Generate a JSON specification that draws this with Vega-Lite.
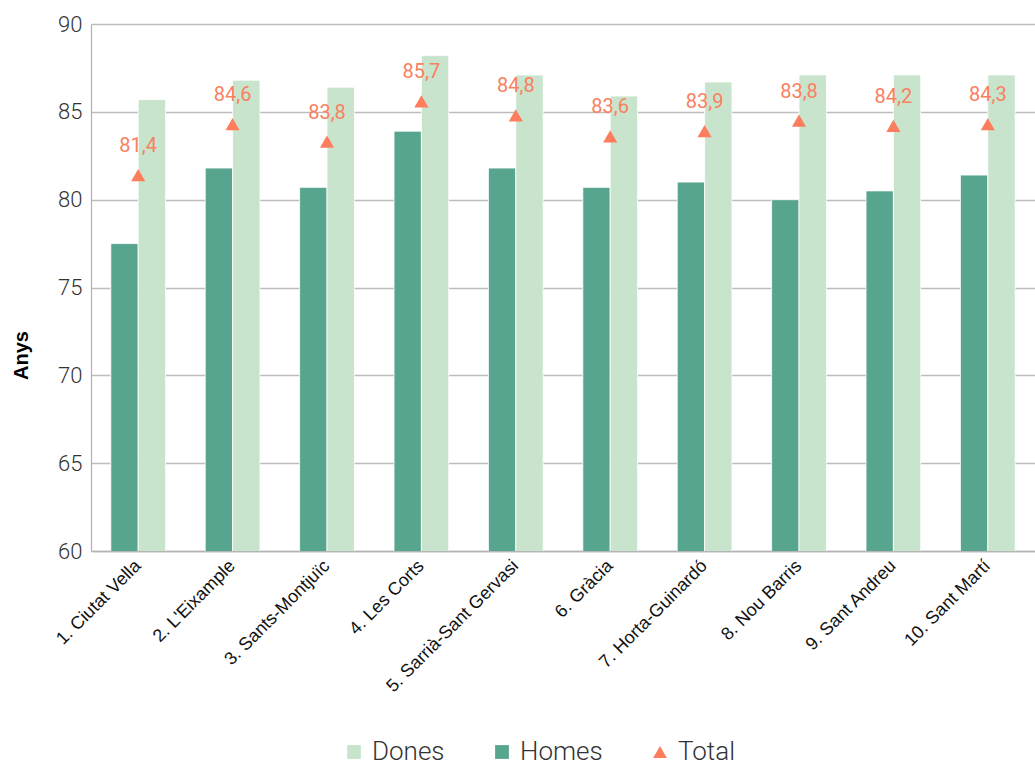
{
  "$schema": "https://vega.github.io/schema/vega-lite/v6.json",
  "autosize": "none",
  "width": 944,
  "height": 527,
  "padding": {"left": 91, "top": 24, "right": 0, "bottom": 216},
  "background": "white",
  "config": {
    "view": {"stroke": null},
    "font": "Roboto",
    "legend": {
      "orient": "none",
      "direction": "horizontal",
      "legendX": 250,
      "legendY": 715,
      "labelFont": "Roboto",
      "labelFontSize": 26,
      "labelFontWeight": 300,
      "labelColor": "#333333",
      "labelOffset": 5,
      "symbolSize": 190,
      "symbolStrokeWidth": 0,
      "columnPadding": 44,
      "title": null
    }
  },
  "data": {
    "values": [
      {"districte": "1. Ciutat Vella", "serie": "Homes", "valor": 77.5, "etiqueta": ""},
      {"districte": "1. Ciutat Vella", "serie": "Dones", "valor": 85.7, "etiqueta": ""},
      {"districte": "1. Ciutat Vella", "serie": "Total", "valor": 81.4, "etiqueta": "81,4"},
      {"districte": "2. L'Eixample", "serie": "Homes", "valor": 81.8, "etiqueta": ""},
      {"districte": "2. L'Eixample", "serie": "Dones", "valor": 86.8, "etiqueta": ""},
      {"districte": "2. L'Eixample", "serie": "Total", "valor": 84.3, "etiqueta": "84,6"},
      {"districte": "3. Sants-Montjuïc", "serie": "Homes", "valor": 80.7, "etiqueta": ""},
      {"districte": "3. Sants-Montjuïc", "serie": "Dones", "valor": 86.4, "etiqueta": ""},
      {"districte": "3. Sants-Montjuïc", "serie": "Total", "valor": 83.3, "etiqueta": "83,8"},
      {"districte": "4. Les Corts", "serie": "Homes", "valor": 83.9, "etiqueta": ""},
      {"districte": "4. Les Corts", "serie": "Dones", "valor": 88.2, "etiqueta": ""},
      {"districte": "4. Les Corts", "serie": "Total", "valor": 85.6, "etiqueta": "85,7"},
      {"districte": "5. Sarrià-Sant Gervasi", "serie": "Homes", "valor": 81.8, "etiqueta": ""},
      {"districte": "5. Sarrià-Sant Gervasi", "serie": "Dones", "valor": 87.1, "etiqueta": ""},
      {"districte": "5. Sarrià-Sant Gervasi", "serie": "Total", "valor": 84.8, "etiqueta": "84,8"},
      {"districte": "6. Gràcia", "serie": "Homes", "valor": 80.7, "etiqueta": ""},
      {"districte": "6. Gràcia", "serie": "Dones", "valor": 85.9, "etiqueta": ""},
      {"districte": "6. Gràcia", "serie": "Total", "valor": 83.6, "etiqueta": "83,6"},
      {"districte": "7. Horta-Guinardó", "serie": "Homes", "valor": 81.0, "etiqueta": ""},
      {"districte": "7. Horta-Guinardó", "serie": "Dones", "valor": 86.7, "etiqueta": ""},
      {"districte": "7. Horta-Guinardó", "serie": "Total", "valor": 83.9, "etiqueta": "83,9"},
      {"districte": "8. Nou Barris", "serie": "Homes", "valor": 80.0, "etiqueta": ""},
      {"districte": "8. Nou Barris", "serie": "Dones", "valor": 87.1, "etiqueta": ""},
      {"districte": "8. Nou Barris", "serie": "Total", "valor": 84.5, "etiqueta": "83,8"},
      {"districte": "9. Sant Andreu", "serie": "Homes", "valor": 80.5, "etiqueta": ""},
      {"districte": "9. Sant Andreu", "serie": "Dones", "valor": 87.1, "etiqueta": ""},
      {"districte": "9. Sant Andreu", "serie": "Total", "valor": 84.2, "etiqueta": "84,2"},
      {"districte": "10. Sant Martí", "serie": "Homes", "valor": 81.4, "etiqueta": ""},
      {"districte": "10. Sant Martí", "serie": "Dones", "valor": 87.1, "etiqueta": ""},
      {"districte": "10. Sant Martí", "serie": "Total", "valor": 84.3, "etiqueta": "84,3"}
    ]
  },
  "encoding": {
    "x": {
      "field": "districte",
      "type": "nominal",
      "sort": null,
      "scale": {"paddingInner": 0.42, "paddingOuter": 0.21},
      "axis": {
        "title": null,
        "labelAngle": -45,
        "labelAlign": "right",
        "labelBaseline": "middle",
        "labelFont": "Liberation Sans",
        "labelFontSize": 18,
        "labelColor": "#111111",
        "labelPadding": 12,
        "ticks": false,
        "domainColor": "#b5b5b5",
        "domainWidth": 1.3,
        "grid": false
      }
    },
    "y": {
      "field": "valor",
      "type": "quantitative",
      "scale": {"domain": [60, 90], "zero": false, "nice": false},
      "axis": {
        "title": "Anys",
        "titleFont": "Liberation Sans",
        "titleFontSize": 20,
        "titleFontWeight": "bold",
        "titleColor": "#000000",
        "titleAngle": -90,
        "titleAlign": "center",
        "titleBaseline": "middle",
        "titleX": -70,
        "titleY": 331,
        "values": [60, 65, 70, 75, 80, 85, 90],
        "labelFont": "Roboto",
        "labelFontSize": 22,
        "labelFontWeight": 300,
        "labelColor": "#333333",
        "labelPadding": 9,
        "ticks": false,
        "domainColor": "#b5b5b5",
        "domainWidth": 1.3,
        "gridColor": "#bdbdbd",
        "gridWidth": 1.3
      }
    }
  },
  "layer": [
    {
      "transform": [{"filter": "datum.serie !== 'Total'"}],
      "mark": {"type": "bar", "stroke": "white", "strokeWidth": 0.8, "clip": true},
      "encoding": {
        "xOffset": {"field": "serie", "type": "nominal", "sort": ["Homes", "Dones"]},
        "color": {
          "field": "serie",
          "type": "nominal",
          "scale": {"domain": ["Dones", "Homes", "Total"], "range": ["#c9e4cd", "#58a58f", "#fd7d5c"]}
        }
      }
    },
    {
      "transform": [{"filter": "datum.serie === 'Total'"}],
      "mark": {"type": "point", "filled": true, "opacity": 1, "size": 200},
      "encoding": {
        "color": {
          "field": "serie",
          "type": "nominal",
          "scale": {"domain": ["Dones", "Homes", "Total"], "range": ["#c9e4cd", "#58a58f", "#fd7d5c"]}
        },
        "shape": {
          "field": "serie",
          "type": "nominal",
          "scale": {"domain": ["Dones", "Homes", "Total"], "range": ["square", "square", "triangle-up"]}
        }
      }
    },
    {
      "transform": [{"filter": "datum.serie === 'Total'"}],
      "mark": {"type": "text", "dy": -29, "fontSize": 20, "font": "Roboto", "color": "#f9805f"},
      "encoding": {
        "text": {"field": "etiqueta", "type": "nominal"}
      }
    }
  ]
}
